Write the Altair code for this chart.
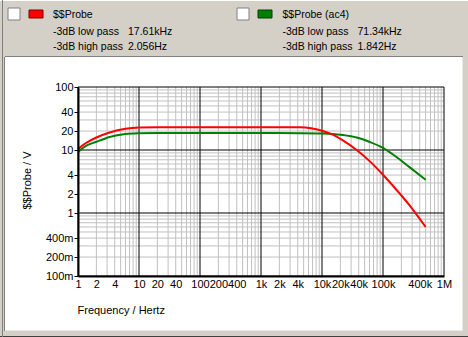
import altair as alt
import pandas as pd

# ---- data ----
freq = [1, 1.35, 2, 3.3, 6, 10, 20, 100, 1000, 4400, 10000, 15000, 22000,
        37000, 61000, 100000, 166000, 275000, 500000]
probe = [10.4, 12.9, 15.8, 19.0, 21.8, 22.8, 23.0, 23.0, 23.0, 22.9, 20.2,
         17.5, 14.2, 10.0, 6.6, 4.05, 2.34, 1.31, 0.6]
probe_ac4 = [9.3, 11.6, 13.5, 16.1, 17.9, 18.4, 18.6, 18.6, 18.6, 18.5, 18.3,
             18.0, 17.3, 15.8, 13.4, 10.8, 7.74, 5.3, 3.38]

series_names = ["$$Probe", "$$Probe (ac4)"]
lowpass = ["17.61kHz", "71.34kHz"]
highpass = ["2.056Hz", "1.842Hz"]

x_tick_labels = [1, 2, 4, 10, 20, 40, 100, 200, 400, 1e3, 2e3, 4e3, 1e4, 2e4,
                 4e4, 1e5, 4e5, 1e6]
y_tick_labels = [0.1, 0.2, 0.4, 1, 2, 4, 10, 20, 40, 100]

x_major = [1, 10, 100, 1e3, 1e4, 1e5, 1e6]
x_minor = [m * d for d in [1, 10, 100, 1e3, 1e4, 1e5] for m in range(2, 10)]
y_major = [0.1, 1, 10, 100]
y_minor = [m * d for d in [0.1, 1, 10] for m in range(2, 10)]

FONT = "Liberation Sans"
RED = "#ff0000"
GREEN = "#008000"

xs = alt.Scale(type="log", domain=[1, 1e6], nice=False)
ys = alt.Scale(type="log", domain=[0.1, 100], nice=False)

x_label_expr = ("datum.value >= 1e6 ? format(datum.value/1e6,'~g')+'M' : "
                "datum.value >= 1e3 ? format(datum.value/1e3,'~g')+'k' : "
                "format(datum.value,'~g')")
y_label_expr = ("datum.value < 1 ? format(round(datum.value*1000),'~g')+'m' : "
                "format(datum.value,'~g')")

x_axis = alt.Axis(values=x_tick_labels, labelExpr=x_label_expr, grid=False,
                  ticks=False, domainColor="black", domainWidth=2,
                  labelFont=FONT, labelFontSize=11, labelColor="black",
                  labelOverlap=False, labelFlush=False, labelPadding=2,
                  title="Frequency / Hertz", titleFont=FONT, titleFontSize=11,
                  titleFontWeight="normal", titleColor="black",
                  titleAlign="left", titleBaseline="middle",
                  titleX=-1, titleY=34, zindex=1)
y_axis = alt.Axis(values=y_tick_labels, labelExpr=y_label_expr, grid=False,
                  ticks=True, tickSize=4, tickColor="black",
                  domainColor="black", domainWidth=2,
                  labelFont=FONT, labelFontSize=11, labelColor="black",
                  labelOverlap=False, labelFlush=False, labelPadding=1,
                  title="$$Probe / V", titleFont=FONT, titleFontSize=11,
                  titleFontWeight="normal", titleColor="black",
                  titleAlign="center", titleBaseline="middle",
                  titleX=-51, titleY=93, zindex=1)

one = pd.DataFrame({"k": [0]})


def rect(x, x2, y, y2, fill, stroke=None, sw=1):
    kw = dict(fill=fill)
    if stroke is not None:
        kw.update(stroke=stroke, strokeWidth=sw)
    else:
        kw.update(strokeWidth=0)
    return alt.Chart(one).mark_rect(**kw).encode(
        x=alt.value(x), x2=alt.value(x2), y=alt.value(y), y2=alt.value(y2))


def hline(x, x2, y, color, sw=1):
    return alt.Chart(one).mark_rule(color=color, strokeWidth=sw).encode(
        x=alt.value(x), x2=alt.value(x2), y=alt.value(y))


def vline(x, y, y2, color, sw=1):
    return alt.Chart(one).mark_rule(color=color, strokeWidth=sw).encode(
        x=alt.value(x), y=alt.value(y), y2=alt.value(y2))


def text(s, x, y, size=10.5):
    return alt.Chart(pd.DataFrame({"t": [s]})).mark_text(
        font=FONT, fontSize=size, color="black", align="left",
        baseline="middle").encode(x=alt.value(x), y=alt.value(y), text="t:N")


# ---- frame / panel ----
panel = rect(-73, 384, -30, 243, "white")
frame = [
    hline(-78, 390, -86.5, "#ffffff"),
    hline(-73, 385, -30.5, "#808080"),
    vline(-73.5, -30, 244, "#808080"),
    hline(-73, 385, 243.5, "#e8e8e8"),
    vline(384.5, -30, 244, "#e8e8e8"),
    hline(-78, 390, 249.5, "#404040"),
    vline(-75.5, -87, 250, "#808080"),
]

# ---- grid ----
grid_x_minor = alt.Chart(pd.DataFrame({"f": x_minor})).mark_rule(
    color="#c0c0c0", strokeWidth=1).encode(x=alt.X("f:Q", scale=xs, axis=x_axis))
grid_y_minor = alt.Chart(pd.DataFrame({"v": y_minor})).mark_rule(
    color="#c0c0c0", strokeWidth=1).encode(y=alt.Y("v:Q", scale=ys, axis=y_axis))
grid_x_major = alt.Chart(pd.DataFrame({"f": x_major})).mark_rule(
    color="black", strokeWidth=1).encode(x=alt.X("f:Q", scale=xs, axis=x_axis))
grid_y_major = alt.Chart(pd.DataFrame({"v": y_major})).mark_rule(
    color="black", strokeWidth=1).encode(y=alt.Y("v:Q", scale=ys, axis=y_axis))

# ---- curves ----
df_red = pd.DataFrame({"f": freq, "v": probe})
df_green = pd.DataFrame({"f": freq, "v": probe_ac4})

line_green = alt.Chart(df_green).mark_line(
    color=GREEN, strokeWidth=2, interpolate="monotone").encode(
    x=alt.X("f:Q", scale=xs, axis=x_axis),
    y=alt.Y("v:Q", scale=ys, axis=y_axis))
line_red = alt.Chart(df_red).mark_line(
    color=RED, strokeWidth=2, interpolate="monotone").encode(
    x=alt.X("f:Q", scale=xs, axis=x_axis),
    y=alt.Y("v:Q", scale=ys, axis=y_axis))

# ---- header legend ----
header = [
    rect(-70, -58, -79, -67, "white", "#808080"),
    rect(-49, -35, -77, -69, RED, "#800000"),
    text(series_names[0], -25, -72),
    text("-3dB low pass", -25, -55.5),
    text(lowpass[0], 50, -55.5),
    text("-3dB high pass", -25, -40.5),
    text(highpass[0], 50, -40.5),
    rect(159, 171, -79, -67, "white", "#808080"),
    rect(180, 194, -77, -69, GREEN, "#004000"),
    text(series_names[1], 204.5, -72),
    text("-3dB low pass", 204.5, -55.5),
    text(lowpass[1], 279.5, -55.5),
    text("-3dB high pass", 204.5, -40.5),
    text(highpass[1], 279.5, -40.5),
]

chart = alt.layer(
    panel, *frame, grid_x_minor, grid_y_minor, grid_x_major, grid_y_major,
    line_green, line_red, *header
).properties(
    width=366, height=189,
    autosize=alt.AutoSizeParams(type="none"),
    padding={"left": 78, "top": 87, "right": 24, "bottom": 61},
    background="#d4d0c8",
).configure_view(stroke=None)

chart.save("out.html", embed_options={"renderer": "svg", "actions": False})
